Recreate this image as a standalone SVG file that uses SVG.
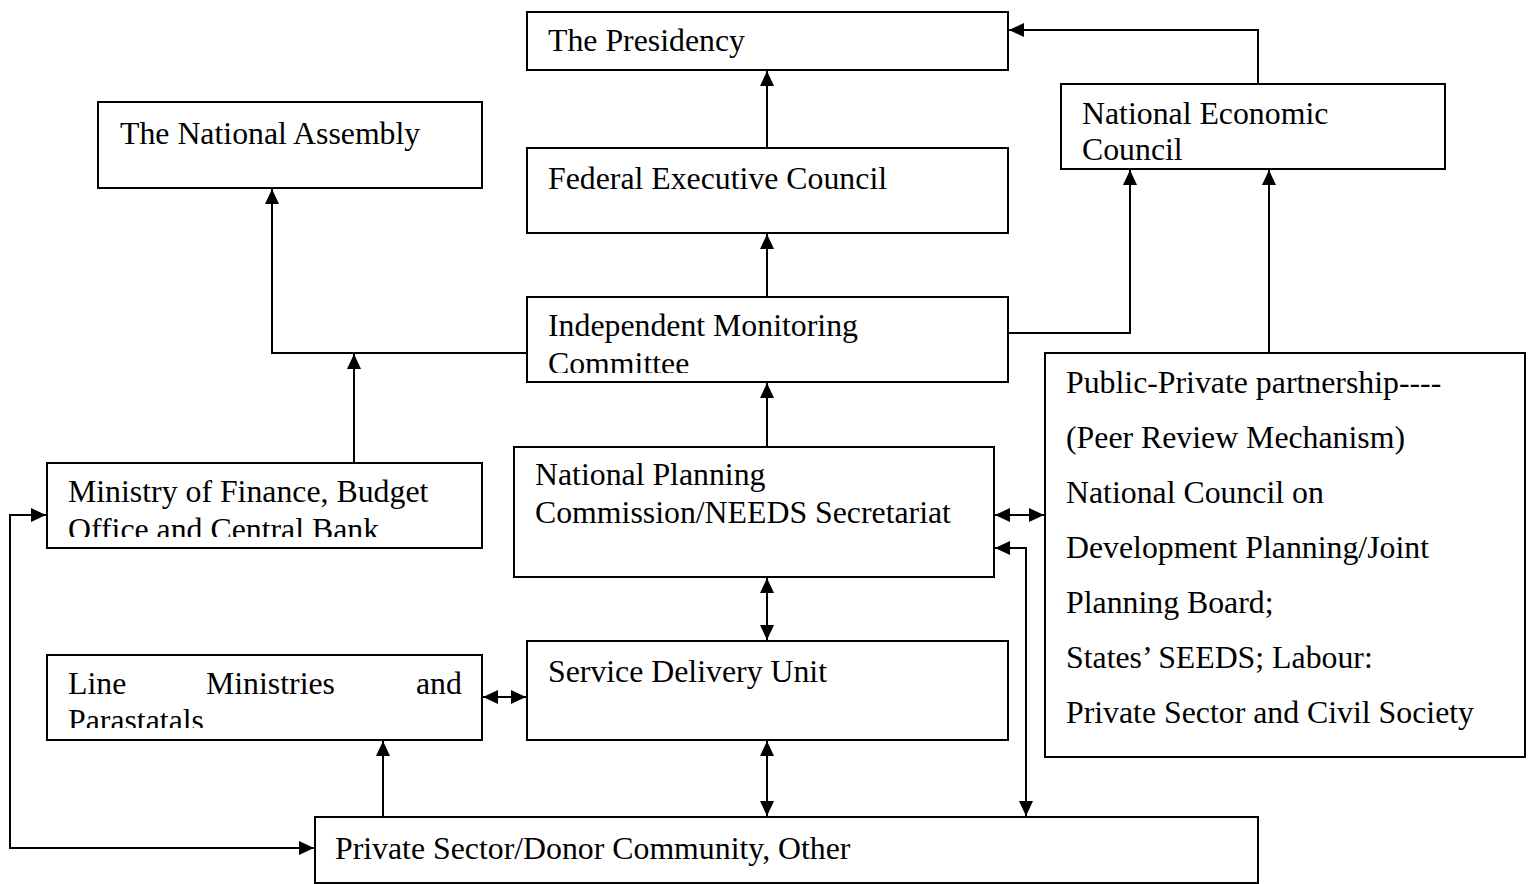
<svg xmlns="http://www.w3.org/2000/svg" width="1535" height="884" viewBox="0 0 1535 884">
  <style>
    .box { fill: #ffffff; stroke: #000000; stroke-width: 2; }
    .t { font-family: "Liberation Serif", "Times New Roman", serif; font-size: 31.8px; fill: #000000; }
    .c { fill: none; stroke: #000000; stroke-width: 2; }
    .one { marker-end: url(#ah); }
    .two { marker-start: url(#ah); marker-end: url(#ah); }
  </style>
  <defs>
    <marker id="ah" markerUnits="userSpaceOnUse" markerWidth="16" markerHeight="14" refX="15" refY="7" orient="auto-start-reverse">
      <path d="M0,0 L15,7 L0,14 Z" fill="#000000"/>
    </marker>
    <clipPath id="clipImc"><rect x="527" y="297" width="481" height="76"/></clipPath>
    <clipPath id="clipMof"><rect x="47" y="463" width="435" height="74"/></clipPath>
    <clipPath id="clipLm"><rect x="47" y="655" width="435" height="73"/></clipPath>
  </defs>

  <rect width="1535" height="884" fill="#ffffff"/>

  <!-- connectors -->
  <g id="connectors">
    <path class="c one" d="M767,148 V71"/>
    <path class="c one" d="M767,297 V234"/>
    <path class="c one" d="M767,447 V383"/>
    <path class="c two" d="M767,578 V640"/>
    <path class="c two" d="M767,741 V816"/>
    <path class="c one" d="M527,353 H272 V189"/>
    <path class="c one" d="M354,463 V354"/>
    <path class="c one" d="M1008,333 H1130 V170"/>
    <path class="c one" d="M1269,353 V170"/>
    <path class="c one" d="M1258,84 V30 H1009"/>
    <path class="c two" d="M995,515 H1044"/>
    <path class="c two" d="M995,548 H1026 V816"/>
    <path class="c two" d="M483,697 H526"/>
    <path class="c one" d="M383,817 V741"/>
    <path class="c two" d="M46,515 H10 V848 H314"/>
  </g>

  <g id="presidency">
    <rect class="box" x="527" y="12" width="481" height="58"/>
    <text class="t" x="548" y="51">The Presidency</text>
  </g>

  <g id="national-assembly">
    <rect class="box" x="98" y="102" width="384" height="86"/>
    <text class="t" x="120" y="144">The National Assembly</text>
  </g>

  <g id="federal-executive-council">
    <rect class="box" x="527" y="148" width="481" height="85"/>
    <text class="t" x="548" y="189">Federal Executive Council</text>
  </g>

  <g id="national-economic-council">
    <rect class="box" x="1061" y="84" width="384" height="85"/>
    <text class="t" x="1082" y="124">
      <tspan x="1082" y="124">National Economic</tspan>
      <tspan x="1082" y="160">Council</tspan>
    </text>
  </g>

  <g id="independent-monitoring-committee">
    <rect class="box" x="527" y="297" width="481" height="85"/>
    <g clip-path="url(#clipImc)">
      <text class="t">
        <tspan x="548" y="336">Independent Monitoring</tspan>
        <tspan x="548" y="374">Committee</tspan>
      </text>
    </g>
  </g>

  <g id="planning-commission">
    <rect class="box" x="514" y="447" width="480" height="130"/>
    <text class="t">
      <tspan x="535" y="485">National Planning</tspan>
      <tspan x="535" y="523">Commission/NEEDS Secretariat</tspan>
    </text>
  </g>

  <g id="ministry-of-finance">
    <rect class="box" x="47" y="463" width="435" height="85"/>
    <g clip-path="url(#clipMof)">
      <text class="t">
        <tspan x="68" y="502">Ministry of Finance, Budget</tspan>
        <tspan x="68" y="540">Office and Central Bank</tspan>
      </text>
    </g>
  </g>

  <g id="line-ministries">
    <rect class="box" x="47" y="655" width="435" height="85"/>
    <g clip-path="url(#clipLm)">
      <text class="t">
        <tspan x="68" y="694">Line</tspan>
        <tspan x="206" y="694">Ministries</tspan>
        <tspan x="416" y="694">and</tspan>
        <tspan x="68" y="731">Parastatals</tspan>
      </text>
    </g>
  </g>

  <g id="service-delivery-unit">
    <rect class="box" x="527" y="641" width="481" height="99"/>
    <text class="t" x="548" y="682">Service Delivery Unit</text>
  </g>

  <g id="public-private-partnership">
    <rect class="box" x="1045" y="353" width="480" height="404"/>
    <text class="t">
      <tspan x="1066" y="393">Public-Private partnership----</tspan>
      <tspan x="1066" y="448">(Peer Review Mechanism)</tspan>
      <tspan x="1066" y="503">National Council on</tspan>
      <tspan x="1066" y="558">Development Planning/Joint</tspan>
      <tspan x="1066" y="613">Planning Board;</tspan>
      <tspan x="1066" y="668">States’ SEEDS; Labour:</tspan>
      <tspan x="1066" y="723">Private Sector and Civil Society</tspan>
    </text>
  </g>

  <g id="private-sector">
    <rect class="box" x="315" y="817" width="943" height="66"/>
    <text class="t" x="335" y="859">Private Sector/Donor Community, Other</text>
  </g>
</svg>
